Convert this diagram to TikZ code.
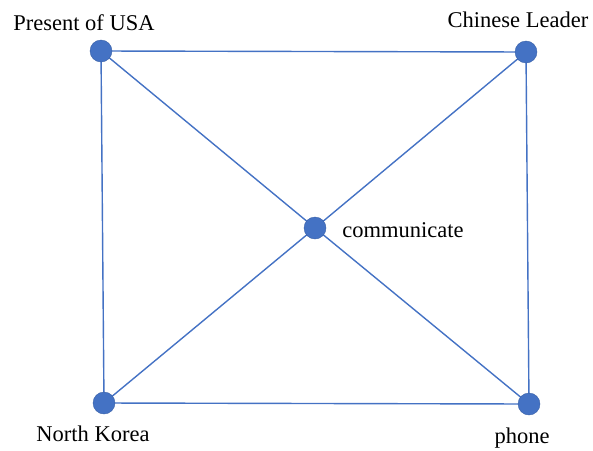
\documentclass[tikz,border=0pt]{standalone}
\usepackage{fontspec}
\setmainfont{Liberation Serif}
\newfontfamily\labelfont{Liberation Serif}
\definecolor{nodeblue}{HTML}{4472C4}
\begin{document}
\begin{tikzpicture}[x=1pt,y=-1pt,
  vertex/.style={circle,fill=nodeblue,draw=nodeblue!85!black,line width=0.4pt,minimum size=22pt,inner sep=0pt},
  edge/.style={draw=nodeblue,line width=1.4pt},
  lbl/.style={anchor=base,inner sep=0pt,font=\labelfont\fontsize{22.5}{27}\selectfont}]
\useasboundingbox (0,0) rectangle (593,450);
% edges first, so the vertices cover their ends
\coordinate (pusa) at (101,51);
\coordinate (pchina) at (526,52);
\coordinate (pcomm) at (315,228);
\coordinate (pnk) at (104,403);
\coordinate (pphone) at (529,404);
\draw[edge] (pusa) -- (pchina);
\draw[edge] (pusa) -- (pnk);
\draw[edge] (pchina) -- (pphone);
\draw[edge] (pnk) -- (pphone);
\draw[edge] (pusa) -- (pcomm);
\draw[edge] (pcomm) -- (pphone);
\draw[edge] (pchina) -- (pcomm);
\draw[edge] (pcomm) -- (pnk);
% vertices
\node[vertex] (usa) at (pusa) {};
\node[vertex] (china) at (pchina) {};
\node[vertex] (comm) at (pcomm) {};
\node[vertex] (nk) at (pnk) {};
\node[vertex] (phone) at (pphone) {};
% labels
\node[lbl] (lusa) at (84,30) {Present of USA};
\node[lbl] (lchina) at (518,27) {Chinese Leader};
\node[lbl] (lcomm) at (403,237) {communicate};
\node[lbl] (lnk) at (93,441) {North Korea};
\node[lbl] (lphone) at (522,443) {phone};
\end{tikzpicture}
\end{document}
